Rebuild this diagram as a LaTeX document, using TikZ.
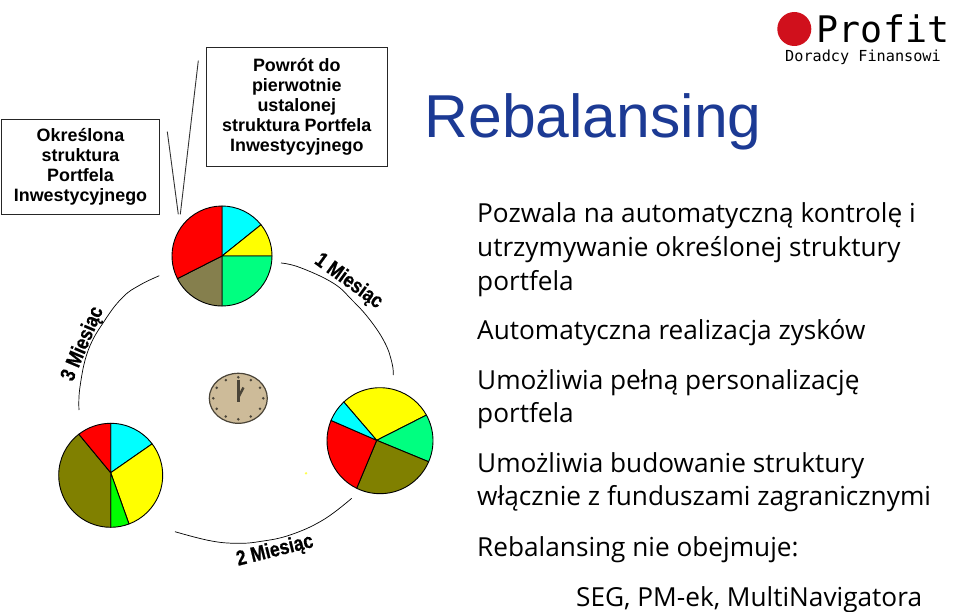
\documentclass[tikz,border=0pt]{standalone}
\usepackage{fontspec}
\setmainfont{Liberation Sans}
\newfontfamily\monof{DejaVu Sans Mono}
\newfontfamily\bodyf{Open Sans}
\newfontfamily\monthf[FakeStretch=0.84,FakeBold=0.6]{Liberation Sans}
\definecolor{titleblue}{HTML}{1C3A94}
\definecolor{pieolive}{HTML}{808000}
\definecolor{piebrown}{HTML}{857F4D}
\definecolor{piegreen}{HTML}{00FF80}
\definecolor{pielime}{HTML}{00FF00}
\definecolor{piecyan}{HTML}{00FFFF}
\definecolor{pieyellow}{HTML}{FFFF00}
\definecolor{piered}{HTML}{FF0000}
\definecolor{logored}{HTML}{D0101C}
\definecolor{clockface}{HTML}{CDBB99}
\definecolor{clockdark}{HTML}{4A4438}
\newcommand{\pieslice}[8]{\filldraw[fill=#8,draw=black,line width=0.9pt,line join=round] (#3,#4) -- ($(#1,#2)+(#6:#5 and -#5)$) arc[start angle=#6,end angle=#7,x radius=#5,y radius=-#5] -- cycle;}
\usetikzlibrary{calc}
\tikzset{
  labelbox/.style={draw=black!85,line width=0.9pt,fill=white,align=center,font=\fontsize{17.9}{20}\selectfont\bfseries,inner sep=0pt},
  bodytext/.style={anchor=base west,inner sep=0pt,font=\bodyf\fontsize{26.2}{27}\selectfont,text=black},
  monthlabel/.style={inner sep=0pt,font=\monthf\fontsize{21}{21}\selectfont\bfseries,text=black},
  arcline/.style={draw=black,line width=0.7pt},
  callout/.style={draw=black!80,line width=0.9pt},
}
\begin{document}
\begin{tikzpicture}[x=1pt,y=-1pt]
\useasboundingbox (0,0) rectangle (960,612);
\fill[white] (0,0) rectangle (960,612);
% boxes
\node[labelbox,minimum width=157.6pt,minimum height=95.3pt] (box1) at (80.5,166.7) {Określona\\struktura\\Portfela\\Inwestycyjnego};
\node[labelbox,minimum width=181.7pt,minimum height=118.7pt] (box2) at (296.8,107.2) {Powrót do\\pierwotnie\\ustalonej\\struktura Portfela\\Inwestycyjnego};
% callouts
\coordinate (c1a) at (167.3,131.7);
\coordinate (c1b) at (178.3,214.3);
\coordinate (c2a) at (198.3,60.7);
\coordinate (c2b) at (180.3,214.3);
\draw[callout] (c1a) -- (c1b);
\draw[callout] (c2a) -- (c2b);
% pie 1
\pieslice{222}{256}{222}{256}{50}{90}{38.7}{piecyan}
\pieslice{222}{256}{222}{256}{50}{38.7}{0}{pieyellow}
\pieslice{222}{256}{222}{256}{50}{0}{-90}{piegreen}
\pieslice{222}{256}{222}{256}{50}{-90}{-153.1}{piebrown}
\pieslice{222}{256}{222}{256}{50}{-153.1}{-270}{piered}
% pie 2
\pieslice{380}{440.7}{376.7}{440.3}{53}{133.1}{28.9}{pieyellow}
\pieslice{380}{440.7}{376.7}{440.3}{53}{28.9}{-23.4}{piegreen}
\pieslice{380}{440.7}{376.7}{440.3}{53}{-23.4}{-116.1}{pieolive}
\pieslice{380}{440.7}{376.7}{440.3}{53}{-116.1}{-202.5}{piered}
\pieslice{380}{440.7}{376.7}{440.3}{53}{-202.5}{-226.9}{piecyan}
% pie 3
\pieslice{110.7}{475.3}{110.7}{472.7}{52}{90}{37.2}{piecyan}
\pieslice{110.7}{475.3}{110.7}{472.7}{52}{37.2}{-69.4}{pieyellow}
\pieslice{110.7}{475.3}{110.7}{472.7}{52}{-69.4}{-90}{pielime}
\pieslice{110.7}{475.3}{110.7}{472.7}{52}{-90}{-232.2}{pieolive}
\pieslice{110.7}{475.3}{110.7}{472.7}{52}{-232.2}{-270}{piered}
% clock
\filldraw[fill=clockface,draw=clockdark,line width=1.2pt] (238.3,398.3) ellipse (29 and 25);
\foreach \a in {0,30,...,330}{
  \fill[clockdark] ($(238.3,398.3)+(\a:25 and 21)$) circle (1.4);
}
\draw[clockdark,line width=3.4pt] (238.3,379.5) -- (238.3,401.5);
\draw[clockdark,line width=2.4pt] (243.5,387.5) -- (238.8,396.5);
% arcs
\draw[arcline] plot[smooth,tension=0.7] coordinates {(281,263) (300,267.5) (333,283) (352,300) (370,320) (385,343) (392,363) (393.3,375)};
\draw[arcline] plot[smooth,tension=0.7] coordinates {(351.7,498.3) (323,520) (290,535) (260,541.5) (236.7,543.3) (210,540.7) (175,531.7)};
\draw[arcline] plot[smooth,tension=0.7] coordinates {(79,410) (80,386.7) (88.3,350) (105,320) (123,297) (140,285) (159.3,275.7)};
% month labels
\node[monthlabel,rotate=-36] (m1) at (348.5,281.5) {1 Miesiąc};
\node[monthlabel,rotate=14] (m2) at (275,551) {2 Miesiąc};
\node[monthlabel,rotate=67] (m3) at (83,344) {3 Miesiąc};
% speck
\fill[pieyellow!70] (306,473.3) circle (1.3);
% title
\node[anchor=base west,inner sep=0pt,text=titleblue,font=\fontsize{60.6}{60}\selectfont] (title) at (424.5,138) {Rebalansing};
% body
\node[bodytext] (t1) at (477,223) {Pozwala na automatyczną kontrolę i};
\node[bodytext] (t2) at (477,256) {utrzymywanie określonej struktury};
\node[bodytext] (t3) at (477,290) {portfela};
\node[bodytext] (t4) at (477,339) {Automatyczna realizacja zysków};
\node[bodytext] (t5) at (477,389) {Umożliwia pełną personalizację};
\node[bodytext] (t6) at (477,422) {portfela};
\node[bodytext] (t7) at (477,472) {Umożliwia budowanie struktury};
\node[bodytext] (t8) at (477,505) {włącznie z funduszami zagranicznymi};
\node[bodytext] (t9) at (477,556) {Rebalansing nie obejmuje:};
\node[bodytext] (t10) at (576,606) {SEG, PM-ek, MultiNavigatora};
% logo
\fill[logored] (794.3,29) circle (17);
\node[anchor=base west,inner sep=0pt,font=\monof\fontsize{36.6}{36}\selectfont] (profit) at (816.7,42.7) {Profit};
\node[anchor=base west,inner sep=0pt,font=\monof\fontsize{15.2}{15}\selectfont] (dor) at (785,62) {Doradcy Finansowi};
\end{tikzpicture}
\end{document}
